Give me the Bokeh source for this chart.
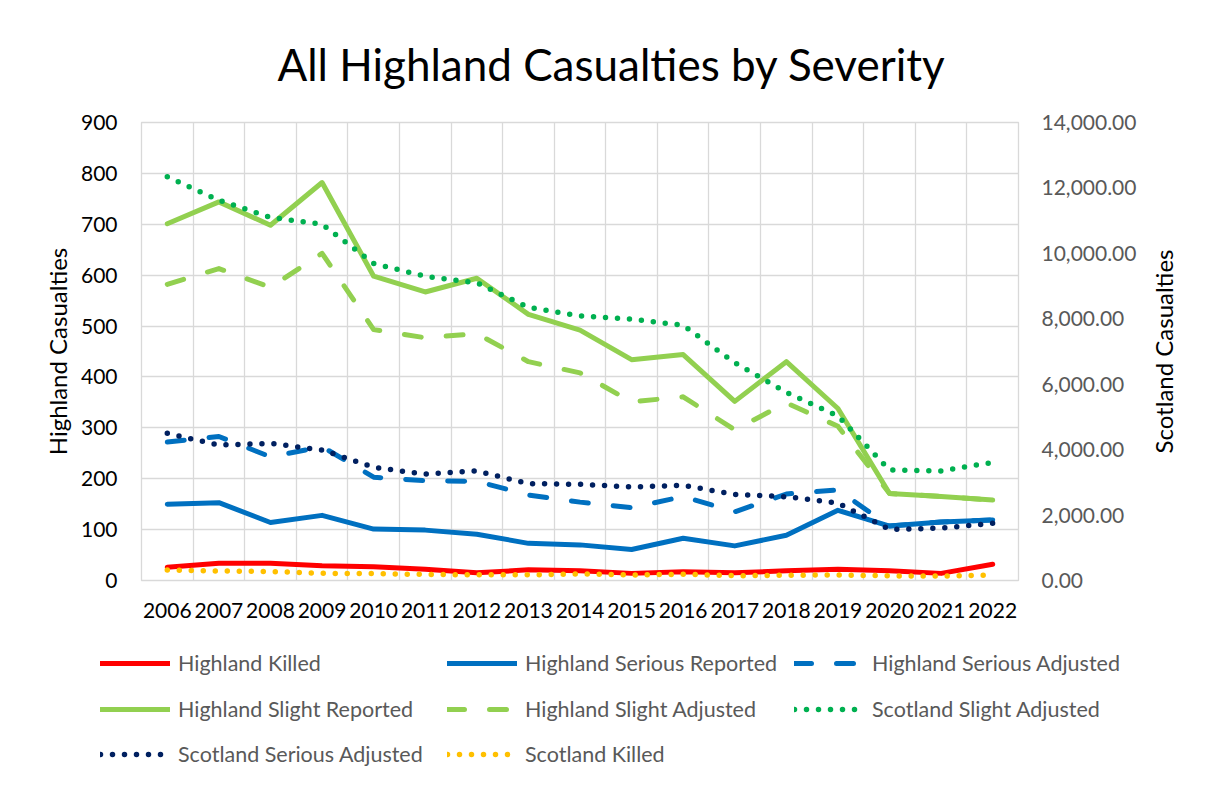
import math
from bokeh.plotting import figure
from bokeh.layouts import row
from bokeh.models import (Range1d, LinearAxis, FixedTicker, NumeralTickFormatter, Legend,
                          LegendItem, SingleIntervalTicker, ColumnDataSource, Label)
from bokeh.embed import file_html
from bokeh.resources import INLINE

# ---------------- data ----------------
years = [2006, 2007, 2008, 2009, 2010, 2011, 2012, 2013, 2014,
         2015, 2016, 2017, 2018, 2019, 2020, 2021, 2022]

highland_killed = [26, 34, 34, 29, 27, 22, 15, 21, 19, 14, 17, 15, 19, 22, 19, 14, 32]
highland_serious_reported = [150, 153, 114, 128, 101, 99, 91, 73, 70, 61, 83, 68, 89, 138, 107, 115, 119]
highland_serious_adjusted = [272, 283, 243, 263, 203, 196, 195, 168, 154, 143, 165, 135, 170, 178, 107, 115, 119]
highland_slight_reported = [701, 744, 698, 782, 598, 567, 594, 523, 492, 434, 444, 352, 430, 338, 171, 165, 158]
highland_slight_adjusted = [582, 613, 576, 643, 493, 477, 485, 430, 408, 351, 361, 296, 349, 303, 171, 165, 158]
scotland_slight_adjusted = [12340, 11625, 11100, 10890, 9690, 9300, 9100, 8350, 8090, 7990, 7800, 6655,
                            5750, 5030, 3380, 3350, 3610]
scotland_serious_adjusted = [4500, 4140, 4190, 3990, 3460, 3250, 3350, 2960, 2940, 2860, 2910, 2630,
                             2560, 2370, 1560, 1600, 1750]
scotland_killed = [320, 290, 275, 220, 210, 185, 175, 172, 200, 168, 191, 146, 161, 168, 142, 136, 170]

series_names = ["Highland Killed", "Highland Serious Reported", "Highland Serious Adjusted",
                "Highland Slight Reported", "Highland Slight Adjusted", "Scotland Slight Adjusted",
                "Scotland Serious Adjusted", "Scotland Killed"]

title_text = "All Highland Casualties by Severity"
left_label = "Highland Casualties"
right_label = "Scotland Casualties"

FONT = "Lato"
GRID = "#d9d9d9"
LW = 5
DOT_W = 5.5
DASH = "17 25"
DOT = "0 12"

# style per series: (column, colour, dash, axis)
styles = [
    ("hk", "#FF0000", "solid", "default"),
    ("hsr", "#0070C0", "solid", "default"),
    ("hsa", "#0070C0", DASH, "default"),
    ("hslr", "#92D050", "solid", "default"),
    ("hsla", "#92D050", DASH, "default"),
    ("ssla", "#00B050", DOT, "right"),
    ("ssa", "#002060", DOT, "right"),
    ("sk", "#FFC000", DOT, "right"),
]

src = ColumnDataSource(dict(
    year=years, hk=highland_killed, hsr=highland_serious_reported, hsa=highland_serious_adjusted,
    hslr=highland_slight_reported, hsla=highland_slight_adjusted,
    ssla=scotland_slight_adjusted, ssa=scotland_serious_adjusted, sk=scotland_killed))

MAIN_W = 1143
MAIN_H = 632
TOP, BOTTOM = 122, 52

# ---------------- main chart ----------------
p = figure(width=MAIN_W, height=MAIN_H, output_backend="svg", toolbar_location=None,
           x_range=Range1d(2005.5, 2022.5), y_range=Range1d(0, 900),
           min_border_left=141, min_border_right=MAIN_W - 1018, min_border_top=TOP,
           min_border_bottom=BOTTOM)
p.extra_y_ranges = {"right": Range1d(0, 14000)}

p.title.text = title_text
p.title.align = "left"
p.title.offset = 136
p.title.text_font = FONT
p.title.text_font_size = "44px"
p.title.text_font_style = "normal"
p.title.text_color = "#000000"
p.title.standoff = 66

p.outline_line_color = GRID
p.outline_line_width = 1.3

xa = p.xaxis[0]
xa.ticker = FixedTicker(ticks=years)
xa.major_label_overrides = {y: str(y) for y in years}
xa.axis_line_color = None
xa.major_tick_line_color = None
xa.minor_tick_line_color = None
xa.major_tick_out = 0
xa.major_tick_in = 0
xa.minor_tick_out = 0
xa.major_label_standoff = 22
xa.major_label_text_font = FONT
xa.major_label_text_font_size = "21px"
xa.major_label_text_color = "#000000"

p.xgrid.ticker = FixedTicker(ticks=[y - 0.5 for y in years] + [years[-1] + 0.5])
p.xgrid.grid_line_color = GRID
p.xgrid.grid_line_width = 1.3

ya = p.yaxis[0]
ya.ticker = SingleIntervalTicker(interval=100)
ya.axis_line_color = None
ya.major_tick_line_color = None
ya.minor_tick_line_color = None
ya.major_tick_out = 0
ya.major_tick_in = 0
ya.minor_tick_out = 0
ya.major_label_standoff = 24
ya.major_label_text_font = FONT
ya.major_label_text_font_size = "21px"
ya.major_label_text_color = "#000000"
ya.axis_label = left_label
ya.axis_label_text_font = FONT
ya.axis_label_text_font_size = "24px"
ya.axis_label_text_font_style = "normal"
ya.axis_label_text_color = "#000000"
ya.axis_label_standoff = 6
p.ygrid.grid_line_color = GRID
p.ygrid.grid_line_width = 1.3

ra = LinearAxis(y_range_name="right", ticker=SingleIntervalTicker(interval=2000),
                formatter=NumeralTickFormatter(format="0,0.00"))
ra.axis_line_color = None
ra.major_tick_line_color = None
ra.minor_tick_line_color = None
ra.major_tick_out = 0
ra.major_tick_in = 0
ra.minor_tick_out = 0
ra.major_label_standoff = 23
ra.major_label_text_font = FONT
ra.major_label_text_font_size = "21px"
ra.major_label_text_color = "#595959"
p.add_layout(ra, "right")

for col, color, dash, rng in styles:
    w = DOT_W if dash == DOT else LW
    p.line("year", col, source=src, y_range_name=rng, line_color=color, line_width=w,
           line_dash=dash, line_join="round", line_cap="round")

# ---------------- right axis title (thin strip beside the chart, reads bottom-to-top) -------------
rf = figure(width=40, height=MAIN_H, output_backend="svg", toolbar_location=None,
            x_range=Range1d(0, 1), y_range=Range1d(0, 1),
            x_axis_location=None, y_axis_location=None,
            min_border_left=0, min_border_right=0, min_border_top=TOP, min_border_bottom=BOTTOM)
rf.grid.visible = False
rf.outline_line_color = None
rf.add_layout(Label(x=20, y=(MAIN_H - TOP - BOTTOM) / 2, x_units="screen", y_units="screen",
                    text=right_label, angle=math.pi / 2, text_align="center", text_baseline="middle",
                    text_font=FONT, text_font_size="24px", text_color="#000000"))

# ---------------- legend strip (separate root below the chart) ----------------
# the same series are drawn here outside the visible range; only their legend glyphs show
lg = figure(width=1200, height=153, output_backend="svg", toolbar_location=None,
            x_range=Range1d(0, 1), y_range=Range1d(0, 1),
            x_axis_location=None, y_axis_location=None,
            min_border_left=0, min_border_right=0, min_border_top=0, min_border_bottom=0)
lg.grid.visible = False
lg.outline_line_color = None

legend_renderers = []
for col, color, dash, rng in styles:
    w = DOT_W if dash == DOT else LW
    legend_renderers.append(lg.line("year", col, source=src, line_color=color, line_width=w,
                                    line_dash=dash, line_join="round", line_cap="round"))

rows = [[0, 1, 2], [3, 4, 5], [6, 7]]
row_bottoms = [107, 61, 16]
for idx, vy in zip(rows, row_bottoms):
    leg = Legend(items=[LegendItem(label=series_names[i], renderers=[legend_renderers[i]]) for i in idx],
                 orientation="horizontal", location=(100, vy), padding=0, margin=0, spacing=16,
                 glyph_width=70, glyph_height=30, label_height=30, label_width=253, label_standoff=8,
                 label_text_font=FONT, label_text_font_size="21.5px", label_text_color="#595959",
                 border_line_color=None, background_fill_alpha=0)
    lg.add_layout(leg, "center")

top_row = row(p, rf, spacing=0)
open("out.html", "w").write(file_html([top_row, lg], INLINE))
